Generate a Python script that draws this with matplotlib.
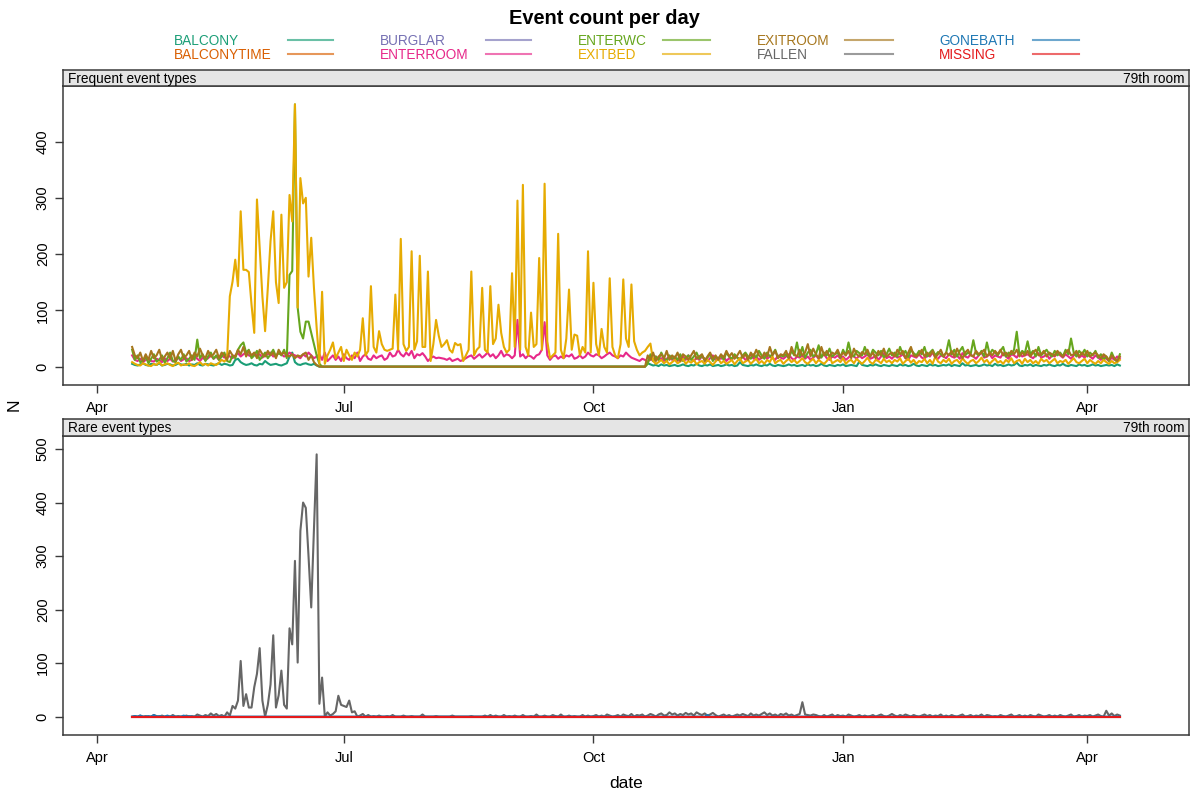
import pandas as pd
import matplotlib
matplotlib.use("Agg")
import matplotlib.pyplot as plt
import matplotlib.dates as mdates
from matplotlib.lines import Line2D

plt.rcParams["font.family"] = ["Liberation Sans", "DejaVu Sans"]

# ---------------------------------------------------------------- data
dates = pd.date_range("2018-04-14", periods=365, freq="D")

# Frequent event types (daily counts)
balcony = (
    [5, 3, 2, 4, 6, 3, 2, 5, 4, 3,
     6, 2, 3, 5, 4, 2, 3, 6, 4, 3,
     5, 2, 4, 3, 6, 3, 2, 5, 4, 3,
     2, 4, 6, 3, 5, 4, 2, 3, 12, 14,
     8, 5, 3, 4, 6, 3, 2, 5, 4, 10,
     6, 3, 4, 5, 3, 2, 4, 6, 18, 25,
     8, 4, 3, 5, 6, 4, 3, 5, 2, 0]
    + [0] * 120
    + [6, 4, 2, 3, 1, 4, 2, 3, 1, 2,
       3, 1, 2, 4, 2, 1, 3, 2, 5, 2,
       1, 3, 2, 4, 1, 2, 3, 1, 2, 4,
       2, 3, 1, 2, 8, 3, 2, 1, 3, 2,
       4, 2, 1, 3, 2, 5, 2, 1, 3, 2,
       1, 2, 4, 2, 3, 1, 2, 3, 1, 4,
       2, 3, 1, 2, 5, 2, 1, 3, 2, 1,
       3, 2, 4, 1, 2, 3, 2, 1, 9, 3,
       2, 1, 3, 2, 4, 2, 1, 3, 2, 1,
       3, 2, 1, 4, 2, 3, 1, 2, 5, 2,
       1, 3, 2, 1, 4, 2, 3, 1, 2, 3,
       2, 4, 1, 3, 2, 1, 6, 2, 3, 1,
       2, 3, 1, 2, 4, 2, 3, 1, 5, 2,
       3, 1, 2, 4, 2, 3, 7, 2, 1, 3,
       2, 4, 1, 3, 2, 1, 3, 2, 4, 2,
       1, 3, 2, 5, 2, 1, 3, 2, 1, 4,
       2, 3, 1, 2, 4, 2, 3, 1, 2, 3,
       2, 3, 1, 4, 2]
)

enterroom = (
    [20, 12, 10, 14, 8, 12, 15, 10, 9, 14,
     12, 8, 15, 10, 14, 9, 12, 16, 10, 13,
     15, 10, 12, 18, 14, 10, 16, 12, 15, 20,
     14, 18, 12, 20, 16, 22, 18, 15, 20, 24,
     18, 22, 25, 20, 18, 24, 20, 22, 16, 20,
     22, 25, 18, 20, 24, 22, 18, 20, 25, 22,
     20, 18, 15, 22, 18, 25, 20, 15, 18, 22]
    + [12, 25, 10, 15, 20, 12, 18, 10, 22, 15,
       12, 20, 15, 25, 10, 18, 22, 14, 12, 20,
       15, 18, 20, 12, 15, 25, 18, 20, 30, 22,
       18, 25, 20, 28, 15, 22, 20, 24, 18, 10,
       15, 18, 15, 16, 15, 14, 12, 15, 10, 12,
       14, 10, 12, 15, 18, 20, 14, 18, 22, 16,
       20, 25, 18, 22, 15, 20, 28, 18, 22, 20,
       15, 20, 83, 18, 22, 15, 20, 18, 14, 20,
       22, 30, 79, 20, 12, 18, 20, 14, 18, 15,
       20, 18, 22, 14, 16, 20, 15, 18, 25, 20,
       18, 22, 20, 15, 18, 22, 25, 20, 18, 15,
       20, 18, 25, 20, 16, 14, 12, 10, 14, 12]
    + [8, 15, 10, 18, 12, 15, 10, 14, 18, 12,
       16, 10, 14, 18, 12, 20, 14, 10, 16, 12,
       18, 14, 10, 15, 20, 12, 16, 14, 18, 10,
       15, 12, 20, 16, 14, 18, 12, 15, 22, 14,
       18, 12, 16, 20, 14, 18, 15, 12, 20, 16,
       14, 18, 22, 15, 12, 18, 16, 20, 14, 18,
       12, 16, 20, 14, 18, 22, 15, 12, 18, 16,
       20, 14, 18, 12, 16, 22, 18, 14, 20, 15,
       18, 22, 14, 16, 20, 12, 18, 24, 15, 18,
       14, 20, 16, 18, 22, 15, 12, 20, 18, 16,
       22, 16, 14, 20, 18, 25, 16, 14, 20, 18,
       15, 22, 18, 16, 20, 14, 24, 18, 16, 22,
       18, 14, 20, 25, 16, 18, 22, 15, 20, 18,
       16, 24, 18, 14, 22, 20, 16, 25, 18, 20,
       22, 18, 15, 20, 24, 16, 18, 22, 14, 20,
       18, 25, 20, 16, 22, 18, 14, 20, 24, 16,
       20, 16, 22, 18, 14, 20, 16, 12, 18, 14,
       10, 16, 12, 18, 15]
)

enterwc = (
    [30, 12, 20, 8, 10, 18, 6, 14, 22, 9,
     12, 20, 7, 15, 25, 10, 8, 18, 12, 22,
     9, 14, 20, 12, 48, 15, 22, 10, 18, 25,
     14, 20, 12, 18, 25, 10, 8, 20, 15, 30,
     38, 43, 25, 30, 15, 20, 28, 12, 18, 25,
     15, 22, 30, 18, 25, 20, 30, 15, 163, 170,
     466, 105, 62, 50, 80, 80, 60, 40, 20, 5]
    + [0] * 120
    + [5, 22, 10, 18, 12, 25, 15, 10, 20, 14,
       18, 12, 22, 10, 16, 20, 12, 18, 25, 14,
       20, 12, 16, 22, 10, 18, 14, 20, 12, 25,
       18, 14, 22, 16, 12, 20, 25, 18, 14, 22,
       16, 28, 20, 14, 25, 18, 22, 30, 16, 20,
       18, 22, 15, 28, 20, 43, 18, 35, 16, 25,
       30, 18, 22, 38, 16, 25, 20, 32, 18, 22,
       25, 16, 30, 20, 43, 22, 18, 28, 24, 20,
       35, 22, 18, 30, 25, 20, 28, 16, 22, 32,
       20, 25, 18, 35, 22, 28, 16, 30, 24, 20,
       28, 22, 35, 18, 25, 30, 20, 26, 22, 18,
       25, 47, 22, 30, 18, 28, 35, 20, 25, 22,
       47, 24, 20, 28, 18, 43, 22, 30, 25, 20,
       28, 35, 18, 25, 22, 30, 62, 20, 28, 24,
       45, 22, 28, 18, 35, 20, 25, 30, 22, 18,
       28, 20, 25, 18, 30, 22, 50, 25, 18, 28,
       22, 30, 18, 25, 20, 28, 16, 22, 12, 18,
       10, 25, 14, 8, 22]
)

exitbed = (
    [8, 5, 3, 2, 6, 4, 2, 1, 5, 3,
     8, 2, 4, 6, 3, 1, 5, 7, 2, 4,
     3, 6, 2, 1, 4, 8, 3, 5, 2, 6,
     4, 3, 7, 12, 9, 15, 125, 151, 190, 143,
     276, 172, 172, 168, 110, 60, 297, 210, 125, 63,
     140, 223, 276, 150, 113, 270, 140, 150, 305, 258,
     466, 105, 335, 290, 300, 160, 229, 140, 69, 5]
    + [133, 5, 20, 30, 43, 15, 25, 35, 10, 30,
       20, 12, 25, 18, 30, 86, 20, 28, 143, 35,
       25, 63, 40, 30, 28, 30, 32, 128, 30, 227,
       40, 28, 35, 205, 30, 45, 197, 35, 35, 169,
       10, 40, 83, 55, 35, 40, 47, 30, 25, 42,
       38, 40, 10, 20, 30, 169, 20, 30, 35, 140,
       30, 25, 143, 40, 50, 110, 60, 35, 25, 30,
       166, 35, 295, 30, 323, 35, 20, 96, 35, 40,
       193, 30, 325, 45, 15, 20, 25, 236, 30, 15,
       50, 137, 30, 57, 55, 20, 35, 25, 205, 25,
       149, 40, 20, 67, 35, 25, 157, 35, 20, 15,
       40, 155, 50, 35, 146, 45, 30, 20, 25, 28]
    + [35, 41, 10, 5, 8, 12, 6, 10, 4, 8,
       12, 6, 9, 14, 5, 10, 7, 12, 4, 8,
       10, 5, 12, 8, 3, 9, 14, 6, 10, 5,
       8, 12, 4, 10, 15, 6, 9, 12, 5, 10,
       14, 6, 10, 5, 12, 8, 18, 6, 10, 12,
       5, 10, 14, 8, 12, 6, 10, 15, 8, 5,
       10, 14, 6, 12, 8, 5, 10, 18, 6, 9,
       12, 8, 15, 5, 10, 12, 6, 14, 9, 5,
       10, 16, 8, 5, 12, 10, 6, 14, 8, 11,
       6, 12, 9, 15, 5, 10, 14, 7, 12, 5,
       10, 8, 14, 6, 12, 5, 18, 9, 6, 12,
       8, 14, 5, 10, 12, 6, 15, 9, 5, 10,
       12, 6, 10, 16, 8, 12, 5, 10, 14, 7,
       10, 5, 12, 8, 15, 6, 10, 12, 5, 14,
       8, 12, 6, 10, 5, 14, 9, 12, 6, 10,
       14, 6, 10, 8, 12, 5, 10, 15, 8, 6,
       10, 14, 6, 12, 8, 5, 10, 6, 12, 8,
       5, 10, 6, 8, 12]
)

exitroom = (
    [35, 20, 15, 25, 10, 22, 12, 28, 15, 20,
     30, 12, 18, 25, 14, 28, 10, 22, 30, 15,
     20, 28, 12, 25, 18, 32, 20, 15, 28, 18,
     22, 30, 15, 25, 20, 12, 28, 20, 18, 30,
     22, 35, 18, 28, 20, 25, 15, 30, 22, 18,
     28, 20, 25, 15, 30, 22, 25, 20, 18, 22,
     15, 20, 18, 22, 25, 12, 20, 8, 3, 0]
    + [0] * 120
    + [20, 12, 25, 10, 18, 22, 14, 28, 12, 20,
       15, 25, 10, 22, 18, 12, 20, 28, 14, 18,
       22, 10, 18, 25, 14, 20, 12, 22, 16, 28,
       18, 24, 14, 20, 28, 16, 22, 12, 25, 18,
       30, 20, 15, 25, 18, 35, 20, 28, 15, 22,
       20, 28, 15, 35, 22, 18, 30, 20, 25, 40,
       18, 32, 22, 15, 35, 20, 28, 18, 25, 22,
       30, 18, 25, 20, 28, 15, 32, 22, 18, 26,
       22, 30, 18, 25, 15, 28, 20, 32, 18, 22,
       25, 18, 30, 22, 28, 15, 25, 35, 20, 18,
       22, 30, 18, 25, 20, 28, 16, 22, 30, 18,
       25, 20, 28, 18, 32, 22, 15, 25, 30, 20,
       18, 28, 22, 25, 30, 18, 25, 20, 28, 22,
       30, 20, 25, 18, 28, 22, 30, 18, 25, 20,
       28, 18, 25, 30, 20, 22, 28, 18, 25, 22,
       20, 28, 22, 18, 25, 30, 20, 22, 28, 18,
       25, 20, 28, 18, 22, 25, 20, 15, 22, 18,
       12, 20, 15, 10, 18]
)

# Rare event types (daily counts)
balconytime = [0] * 365
burglar = [0] * 365
missing = [0] * 365

fallen = [
    0, 1, 0, 2, 0, 1, 0, 0, 3, 1,
    0, 2, 0, 1, 0, 3, 0, 1, 0, 0,
    2, 0, 1, 0, 4, 2, 0, 3, 1, 6,
    2, 5, 1, 3, 0, 8, 2, 20, 15, 30,
    104, 20, 42, 17, 17, 55, 80, 128, 30, 0,
    22, 60, 152, 17, 40, 86, 22, 15, 165, 135,
    291, 101, 347, 400, 390, 300, 204, 350, 490, 24,
    73, 0, 8, 2, 5, 10, 39, 22, 20, 18,
    30, 8, 10, 0, 2, 5, 0, 3, 0, 1,
    0, 2, 0, 0, 1, 0, 3, 0, 0, 0,
    2, 0, 0, 1, 0, 0, 0, 4, 0, 0,
    0, 0, 1, 0, 0, 0, 0, 0, 2, 0,
    0, 0, 0, 0, 0, 1, 0, 0, 0, 0,
    2, 0, 3, 0, 2, 0, 0, 3, 0, 1,
    0, 2, 0, 0, 3, 0, 0, 1, 0, 4,
    0, 0, 2, 0, 0, 3, 1, 0, 4, 0,
    0, 2, 0, 1, 0, 0, 3, 0, 2, 0,
    1, 3, 0, 2, 0, 4, 2, 0, 1, 3,
    0, 4, 2, 1, 5, 0, 3, 2, 4, 0,
    2, 5, 3, 0, 4, 6, 2, 3, 8, 4,
    6, 2, 5, 3, 7, 4, 6, 2, 8, 5,
    3, 6, 2, 4, 7, 3, 0, 2, 4, 1,
    3, 0, 2, 4, 2, 5, 3, 1, 6, 2,
    4, 2, 5, 8, 3, 6, 2, 4, 1, 5,
    3, 6, 2, 4, 1, 3, 5, 27, 4, 3,
    2, 4, 3, 1, 0, 3, 0, 2, 4, 0,
    3, 1, 2, 0, 4, 2, 0, 1, 3, 0,
    2, 0, 1, 3, 0, 2, 4, 1, 0, 2,
    5, 2, 0, 3, 1, 4, 2, 0, 3, 1,
    0, 2, 4, 1, 3, 0, 2, 1, 4, 0,
    2, 0, 3, 1, 0, 2, 4, 0, 1, 3,
    0, 2, 1, 4, 0, 3, 2, 0, 1, 0,
    3, 1, 0, 2, 4, 0, 1, 3, 0, 2,
    0, 3, 1, 0, 4, 2, 0, 1, 3, 0,
    2, 0, 3, 1, 0, 2, 4, 0, 1, 3,
    0, 2, 1, 3, 0, 2, 4, 1, 0, 11,
    2, 6, 1, 4, 2,
]

gonebath = (
    [0, 1, 0, 2, 0, 0, 1, 0, 3, 0,
     1, 0, 0, 2, 0, 1, 0, 0, 0, 2,
     0, 1, 0, 0, 0, 0, 0, 0, 0, 0]
    + [0] * 180
    + [0, 0, 3, 0, 0, 0, 0, 0, 0, 0]
    + [0] * 145
)

event_types = ["BALCONY", "BALCONYTIME", "BURGLAR", "ENTERROOM", "ENTERWC",
               "EXITBED", "EXITROOM", "FALLEN", "GONEBATH", "MISSING"]
event_colors = ["#1B9E77", "#D95F02", "#7570B3", "#E7298A", "#66A61E",
                "#E6AB02", "#A6761D", "#666666", "#1F78B4", "#E41A1C"]
color_of = dict(zip(event_types, event_colors))

frequent = {"BALCONY": balcony, "ENTERROOM": enterroom, "ENTERWC": enterwc,
            "EXITBED": exitbed, "EXITROOM": exitroom}
rare = {"BALCONYTIME": balconytime, "BURGLAR": burglar, "FALLEN": fallen,
        "GONEBATH": gonebath, "MISSING": missing}

panels = [("Frequent event types", frequent, [0, 100, 200, 300, 400]),
          ("Rare event types", rare, [0, 100, 200, 300, 400, 500])]
room_label = "79th room"

# ---------------------------------------------------------------- figure
W, H = 1192, 798
fig = plt.figure(figsize=(W / 100, H / 100), dpi=100)


def fx(px):
    return px / W


def fy(py):
    return 1 - py / H


edge = "#3a3a3a"
panel_boxes = [(86, 385, 70), (436, 735, 419)]   # plot top, plot bottom, strip top (px)
left_px, right_px = 63, 1189

pad = pd.Timedelta(days=364 * 0.07)
xmin, xmax = dates[0] - pad, dates[-1] + pad

for (title, series, yticks), (ptop, pbot, stop) in zip(panels, panel_boxes):
    ax = fig.add_axes([fx(left_px), fy(pbot), fx(right_px - left_px), (pbot - ptop) / H])
    for name, vals in series.items():
        ax.plot(dates, vals, color=color_of[name], lw=1.5, solid_joinstyle="round")
    top = max(max(v) for v in series.values())
    ax.set_ylim(-0.07 * top, 1.07 * top)
    ax.set_xlim(xmin, xmax)
    ax.set_yticks(yticks)
    ax.xaxis.set_major_locator(mdates.MonthLocator(bymonth=[1, 4, 7, 10]))
    ax.xaxis.set_major_formatter(mdates.DateFormatter("%b"))
    ax.tick_params(axis="both", direction="out", length=5.5, width=1, color=edge,
                   labelsize=10.5, top=False, right=False)
    ax.tick_params(axis="x", pad=6)
    ax.tick_params(axis="y", pad=4)
    for lab in ax.get_yticklabels():
        lab.set_rotation(90)
        lab.set_va("center")
    for sp in ax.spines.values():
        sp.set_color(edge)
        sp.set_linewidth(1.1)

    sax = fig.add_axes([fx(left_px), fy(ptop), fx(right_px - left_px), (ptop - stop) / H])
    sax.set_facecolor("#E5E5E5")
    sax.set_xticks([])
    sax.set_yticks([])
    for sp in sax.spines.values():
        sp.set_color(edge)
        sp.set_linewidth(1.1)
    sax.text(0.004, 0.45, title, transform=sax.transAxes, ha="left", va="center", fontsize=9.8)
    sax.text(0.996, 0.45, room_label, transform=sax.transAxes, ha="right", va="center", fontsize=9.8)

# titles and axis labels
fig.text(fx(604), fy(18), "Event count per day", ha="center", va="center",
         fontsize=14.4, fontweight="bold")
fig.text(fx(14), fy(405), "N", ha="center", va="center", rotation=90, fontsize=12.5)
fig.text(fx(626), fy(784), "date", ha="center", va="center", fontsize=12.5)

# legend: five columns, two rows, text followed by a line sample
col_text_x = [174, 380, 578, 757, 939]
col_line_x = [(288, 333), (486, 531), (663, 710), (845, 893), (1033, 1079)]
row_y = [41, 55]
for i, name in enumerate(event_types):
    col, row = divmod(i, 2)
    fig.text(fx(col_text_x[col]), fy(row_y[row]), name, ha="left", va="center",
             fontsize=9.8, color=color_of[name])
    x0, x1 = col_line_x[col]
    fig.add_artist(Line2D([fx(x0), fx(x1)], [fy(row_y[row] - 1), fy(row_y[row] - 1)],
                          color=color_of[name], lw=1.5, alpha=0.65,
                          transform=fig.transFigure))

fig.savefig("out.png", dpi=100)
